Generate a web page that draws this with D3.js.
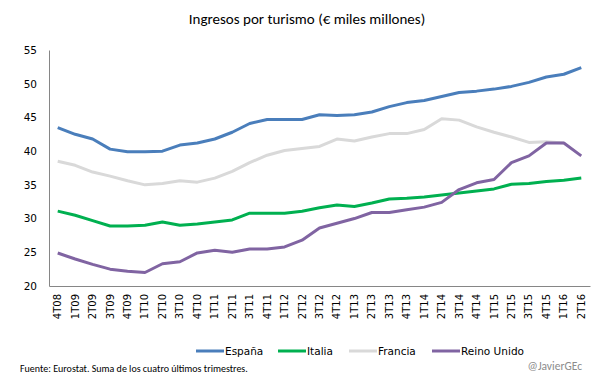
<!DOCTYPE html>
<html>
<head>
<meta charset="utf-8">
<script src="https://cdn.jsdelivr.net/npm/d3@7"></script>
<style>
  body { margin: 0; background: #fff; }
  svg { font-family: Carlito, Lato, "Liberation Sans", sans-serif; }
</style>
</head>
<body>
<svg id="chart" width="605" height="378"></svg>
<script>
// trimestres
var quarters = ["4T08","1T09","2T09","3T09","4T09","1T10","2T10","3T10","4T10","1T11","2T11","3T11","4T11",
  "1T12","2T12","3T12","4T12","1T13","2T13","3T13","4T13","1T14","2T14","3T14","4T14","1T15","2T15","3T15","4T15","1T16","2T16"];

var espana = [43.5,42.5,41.8,40.3,39.9,39.9,40.0,40.9,41.2,41.8,42.8,44.1,44.7,44.7,44.7,45.4,45.3,45.4,45.8,46.6,47.2,47.5,48.1,48.7,48.9,49.2,49.6,50.2,51.0,51.4,52.4];
var italia = [31.1,30.5,29.7,28.9,28.9,29.0,29.5,29.0,29.2,29.5,29.8,30.8,30.8,30.8,31.1,31.6,32.0,31.8,32.3,32.9,33.0,33.2,33.5,33.8,34.1,34.4,35.1,35.2,35.5,35.7,36.0];
var francia = [38.5,37.9,36.9,36.3,35.6,35.0,35.2,35.6,35.4,36.0,37.0,38.3,39.4,40.1,40.4,40.7,41.8,41.5,42.1,42.6,42.6,43.2,44.8,44.6,43.6,42.8,42.1,41.3,41.4,41.2];
var reinoUnido = [24.9,24.0,23.2,22.5,22.2,22.0,23.3,23.6,24.9,25.3,25.0,25.5,25.5,25.8,26.8,28.6,29.3,30.0,30.9,30.9,31.3,31.7,32.4,34.3,35.3,35.8,38.3,39.3,41.2,41.2,39.3];

var yTicks = [20,25,30,35,40,45,50,55];

var series = [
  {name: "España", values: espana, color: "#4a7ebb"},
  {name: "Italia", values: italia, color: "#00b050"},
  {name: "Francia", values: francia, color: "#d9d9d9"},
  {name: "Reino Unido", values: reinoUnido, color: "#8064a2"}
];

var tahoma = "'DejaVu Sans', Verdana, sans-serif";
var svg = d3.select("#chart");
var mLeft = 49, mRight = 590, mTop = 50, mBottom = 286;

var x = d3.scaleBand().domain(quarters).range([mLeft, mRight]);
var y = d3.scaleLinear().domain([20, 55]).range([mBottom, mTop]);

// titulo
svg.append("text").attr("x", 307).attr("y", 24).attr("text-anchor", "middle")
  .attr("font-size", 15).attr("fill", "#000").text("Ingresos por turismo (€ miles millones)");

// eje y
var yAxis = svg.append("g").attr("transform", "translate(" + mLeft + ",0)")
  .call(d3.axisLeft(y).tickValues(yTicks).tickSize(0).tickPadding(12));
yAxis.select(".domain").attr("stroke", "#868686");
yAxis.selectAll("text").attr("font-size", 10.5).attr("fill", "#000")
  .style("font-family", tahoma);

// eje x
var xAxis = svg.append("g").attr("transform", "translate(0," + mBottom + ")")
  .call(d3.axisBottom(x).tickSize(0).tickSizeOuter(0));
xAxis.select(".domain").attr("stroke", "#868686");
xAxis.selectAll("text")
  .attr("font-size", 10).attr("fill", "#000")
  .style("font-family", tahoma)
  .attr("text-anchor", "end")
  .attr("transform", "rotate(-90)")
  .attr("x", -8).attr("y", 0).attr("dy", "0.35em");

var line = d3.line()
  .x(function(d, i) { return x(quarters[i]) + x.bandwidth() / 2; })
  .y(function(d) { return y(d); });

svg.selectAll(".serie").data(series).enter().append("path")
  .attr("class", "serie")
  .attr("d", function(s) { return line(s.values); })
  .attr("fill", "none")
  .attr("stroke", function(s) { return s.color; })
  .attr("stroke-width", 3)
  .attr("stroke-linejoin", "round");

// leyenda
var legendX = [196, 278, 349, 432];
var lg = svg.selectAll(".leg").data(series).enter().append("g")
  .attr("transform", function(s, i) { return "translate(" + legendX[i] + ",351)"; });
lg.append("line").attr("x1", 0).attr("x2", 28).attr("y1", 0).attr("y2", 0)
  .attr("stroke", function(s) { return s.color; }).attr("stroke-width", 3);
lg.append("text").style("font-family", tahoma).attr("x", 29).attr("y", 4).attr("font-size", 10.5).attr("fill", "#000")
  .text(function(s) { return s.name; });

svg.append("text").attr("x", 20).attr("y", 372).attr("font-size", 10).attr("fill", "#000")
  .text("Fuente: Eurostat. Suma de los cuatro últimos trimestres.");
svg.append("text").attr("x", 582).attr("y", 370).attr("text-anchor", "end").attr("font-size", 11.5)
  .attr("fill", "#8c8c8c").text("@JavierGEc");
</script>
</body>
</html>
